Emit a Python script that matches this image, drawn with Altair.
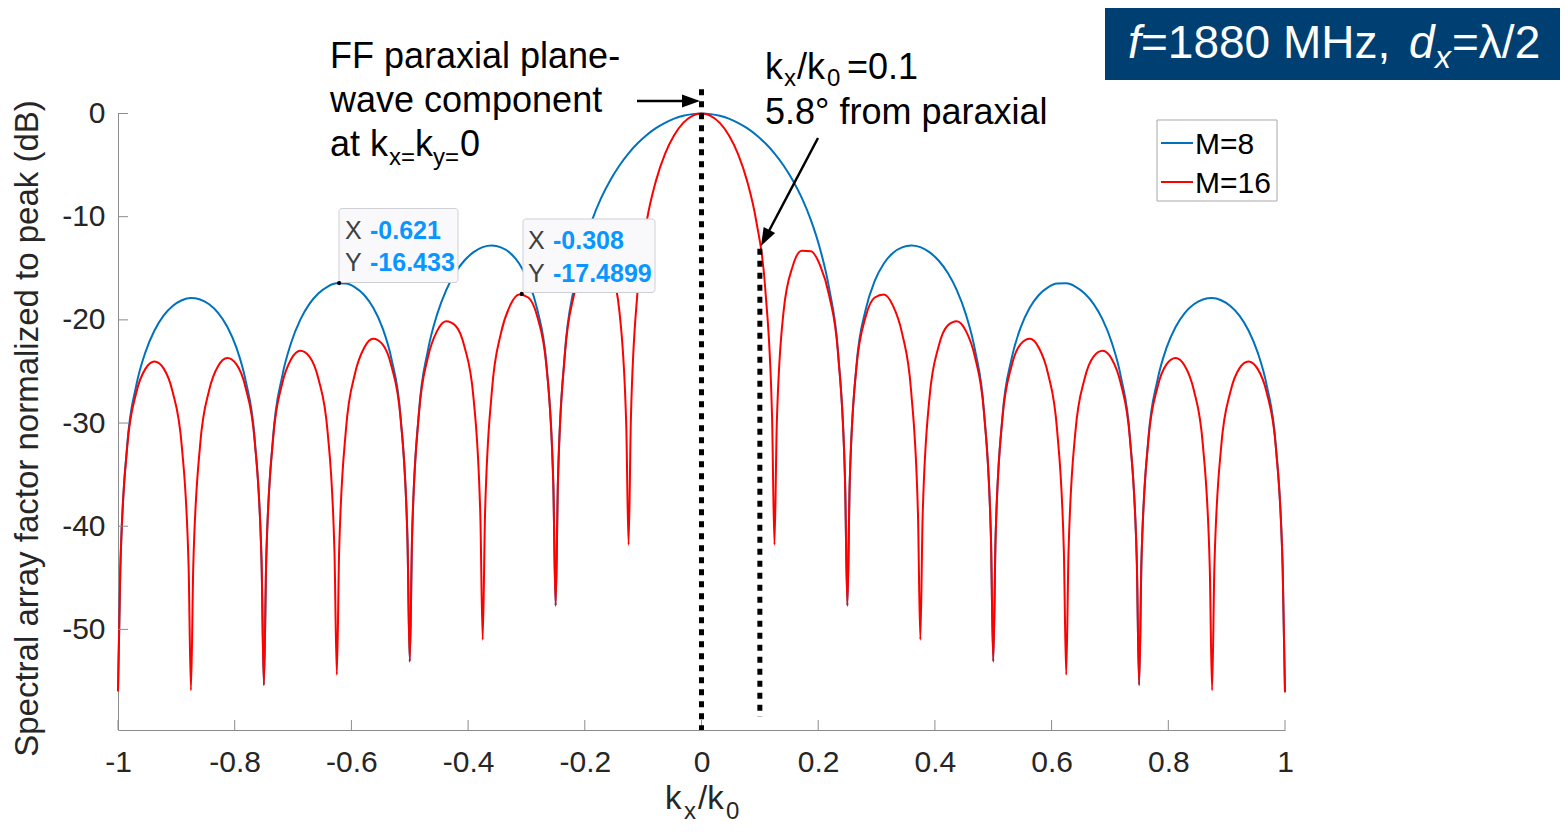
import altair as alt
import pandas as pd

# ---------------- data ----------------
kx_grid = [
    -1.0, -0.9844, -0.9688, -0.9531, -0.9375, -0.9219, -0.9063, -0.8906,
    -0.875, -0.8594, -0.8438, -0.8281, -0.8125, -0.7969, -0.7813, -0.7656,
    -0.75, -0.7344, -0.7188, -0.7031, -0.6875, -0.6719, -0.6563, -0.6406,
    -0.625, -0.6094, -0.5938, -0.5781, -0.5625, -0.5469, -0.5313, -0.5156,
    -0.5, -0.4844, -0.4688, -0.4531, -0.4375, -0.4219, -0.4063, -0.3906,
    -0.375, -0.3594, -0.3438, -0.3281, -0.3125, -0.2969, -0.2813, -0.2656,
    -0.25, -0.2344, -0.2188, -0.2031, -0.1875, -0.1719, -0.1563, -0.1406,
    -0.125, -0.1094, -0.0938, -0.0781, -0.0625, -0.0469, -0.0313, -0.0156,
    0.0,
    0.0156, 0.0313, 0.0469, 0.0625, 0.0781, 0.0938, 0.1094, 0.125,
    0.1406, 0.1563, 0.1719, 0.1875, 0.2031, 0.2188, 0.2344, 0.25,
    0.2656, 0.2813, 0.2969, 0.3125, 0.3281, 0.3438, 0.3594, 0.375,
    0.3906, 0.4063, 0.4219, 0.4375, 0.4531, 0.4688, 0.4844, 0.5,
    0.5156, 0.5313, 0.5469, 0.5625, 0.5781, 0.5938, 0.6094, 0.625,
    0.6406, 0.6563, 0.6719, 0.6875, 0.7031, 0.7188, 0.7344, 0.75,
    0.7656, 0.7813, 0.7969, 0.8125, 0.8281, 0.8438, 0.8594, 0.875,
    0.8906, 0.9063, 0.9219, 0.9375, 0.9531, 0.9688, 0.9844, 1.0,
]

m16_grid_db = [
    -56.0, -32.42, -27.08, -24.75, -24.04, -24.70, -27.00, -32.29,
    -55.9, -32.21, -26.83, -24.45, -23.70, -24.32, -26.57, -31.82,
    -55.4, -31.64, -26.21, -23.79, -22.99, -23.56, -25.76, -30.96,
    -54.4, -30.67, -25.19, -22.70, -21.84, -22.35, -24.49, -29.62,
    -53.1, -29.19, -23.63, -21.07, -20.13, -20.55, -22.59, -27.63,
    -51.0, -26.99, -21.31, -18.62, -17.55, -17.83, -19.71, -24.57,
    -47.7, -23.54, -17.64, -14.70, -13.34, -13.29, -14.80, -19.23,
    -41.8, -17.08, -10.42, -6.53, -3.91, -2.10, -0.91, -0.22,
    0.0,
    -0.22, -0.91, -2.10, -3.91, -6.53, -10.42, -17.08, -41.8,
    -19.23, -14.80, -13.29, -13.34, -14.70, -17.64, -23.54, -47.7,
    -24.57, -19.71, -17.83, -17.55, -18.62, -21.31, -26.99, -51.0,
    -27.63, -22.59, -20.55, -20.13, -21.07, -23.63, -29.19, -53.1,
    -29.62, -24.49, -22.35, -21.84, -22.70, -25.19, -30.67, -54.4,
    -30.96, -25.76, -23.56, -22.99, -23.79, -26.21, -31.64, -55.4,
    -31.82, -26.57, -24.32, -23.70, -24.45, -26.83, -32.21, -55.9,
    -32.29, -27.00, -24.70, -24.04, -24.75, -27.08, -32.42, -56.1,
]

m8_grid_db = [
    -56.0, -32.26, -26.39, -23.15, -21.03, -19.59, -18.66, -18.10,
    -17.89, -18.02, -18.49, -19.34, -20.69, -22.72, -25.88, -31.66,
    -55.4, -31.48, -25.52, -22.19, -19.98, -18.45, -17.42, -16.77,
    -16.46, -16.48, -16.85, -17.59, -18.83, -20.75, -23.80, -29.46,
    -53.1, -29.03, -22.94, -19.47, -17.12, -15.44, -14.25, -13.44,
    -12.95, -12.80, -12.97, -13.51, -14.54, -16.23, -19.02, -24.41,
    -47.7, -23.38, -16.95, -13.10, -10.33, -8.18, -6.46, -5.04,
    -3.86, -2.89, -2.08, -1.42, -0.90, -0.50, -0.22, -0.06,
    0.0,
    -0.06, -0.22, -0.50, -0.90, -1.42, -2.08, -2.89, -3.86,
    -5.04, -6.46, -8.18, -10.33, -13.10, -16.95, -23.38, -47.7,
    -24.41, -19.02, -16.23, -14.54, -13.51, -12.97, -12.80, -12.95,
    -13.44, -14.25, -15.44, -17.12, -19.47, -22.94, -29.03, -53.1,
    -29.46, -23.80, -20.75, -18.83, -17.59, -16.85, -16.48, -16.46,
    -16.77, -17.42, -18.45, -19.98, -22.19, -25.52, -31.48, -55.4,
    -31.66, -25.88, -22.72, -20.69, -19.34, -18.49, -18.02, -17.89,
    -18.10, -18.66, -19.59, -21.03, -23.15, -26.39, -32.26, -56.1,
]

# extra samples right beside the nulls (sharp notches)
m16_notch_kx = [
    -0.996, -0.879, -0.871, -0.754, -0.746, -0.629, -0.621, -0.504, -0.496,
    -0.379, -0.371, -0.254, -0.246, -0.129, -0.121,
    0.121, 0.129, 0.246, 0.254, 0.371, 0.379, 0.496, 0.504,
    0.621, 0.629, 0.746, 0.754, 0.871, 0.879, 0.996,
]
m16_notch_db = [
    -44.05, -43.89, -43.87, -43.38, -43.34, -42.49, -42.41, -41.09, -40.98,
    -39.02, -38.86, -35.84, -35.57, -30.11, -29.56,
    -29.56, -30.11, -35.57, -35.84, -38.86, -39.02, -40.98, -41.09,
    -42.41, -42.49, -43.34, -43.38, -43.87, -43.89, -44.05,
]
m8_notch_kx = [-0.996, -0.754, -0.746, -0.504, -0.496, -0.254, -0.246,
               0.246, 0.254, 0.496, 0.504, 0.746, 0.754, 0.996]
m8_notch_db = [-44.03, -43.36, -43.32, -41.07, -40.96, -35.82, -35.55,
               -35.55, -35.82, -40.96, -41.07, -43.32, -43.36, -44.03]

tick_x = [-1, -0.8, -0.6, -0.4, -0.2, 0, 0.2, 0.4, 0.6, 0.8, 1]
tick_y = [0, -10, -20, -30, -40, -50]

datatip_x = [-0.621, -0.308]
datatip_y = [-16.433, -17.4899]

marker_kx = [0.0, 0.1]
marker_top = [2.36, -13.1]
marker_bottom = [-59.75, -58.5]

# ---------------- tables ----------------
df8 = pd.DataFrame({"kx": kx_grid + m8_notch_kx, "db": m8_grid_db + m8_notch_db}).sort_values("kx")
df16 = pd.DataFrame({"kx": kx_grid + m16_notch_kx, "db": m16_grid_db + m16_notch_db}).sort_values("kx")
df_tx = pd.DataFrame({"kx": tick_x})
df_ty = pd.DataFrame({"db": tick_y})
df_tip = pd.DataFrame({"kx": datatip_x, "db": datatip_y})
df_mark = pd.DataFrame({"kx": marker_kx, "db": marker_top, "db2": marker_bottom})
one = alt.Data(values=[{"a": 0}])

W, H = 1167, 616.5
FONT = "Liberation Sans"
AX = "#8c8c8c"
LAB = "#262626"

xs = alt.Scale(domain=[-1, 1], nice=False, zero=False)
ys = alt.Scale(domain=[-59.75, 0], nice=False, zero=False)

xaxis = alt.Axis(values=tick_x, labelExpr="'' + datum.value", ticks=False, grid=False,
                 domainColor=AX, domainWidth=1, labelFont=FONT, labelFontSize=30,
                 labelColor=LAB, labelPadding=17, labelFlush=False, labelOverlap=False,
                 title=None)
yaxis = alt.Axis(values=tick_y, labelExpr="'' + datum.value", ticks=False, grid=False,
                 domainColor=AX, domainWidth=1, labelFont=FONT, labelFontSize=30,
                 labelColor=LAB, labelPadding=13, labelFlush=False, labelOverlap=False,
                 title=None)


def X():
    return alt.X("kx:Q", scale=xs, axis=xaxis)


def Y():
    return alt.Y("db:Q", scale=ys, axis=yaxis)


def txt(s, x, y, size, color="black", weight="normal", style="normal",
        align="left", angle=0, baseline="alphabetic"):
    return alt.Chart(one).mark_text(
        text=s, font=FONT, fontSize=size, color=color, fontWeight=weight,
        fontStyle=style, align=align, baseline=baseline, angle=angle
    ).encode(x=alt.value(x), y=alt.value(y))


def rect(x1, x2, y1, y2, fill, stroke=None, sw=1, radius=0):
    kw = dict(fill=fill, cornerRadius=radius)
    if stroke is not None:
        kw.update(stroke=stroke, strokeWidth=sw)
    return alt.Chart(one).mark_rect(**kw).encode(
        x=alt.value(x1), x2=alt.value(x2), y=alt.value(y1), y2=alt.value(y2))


def seg(x1, y1, x2, y2, color, sw):
    return alt.Chart(one).mark_rule(color=color, strokeWidth=sw).encode(
        x=alt.value(x1), x2=alt.value(x2), y=alt.value(y1), y2=alt.value(y2))


HEAD = "M1,0 L-1,-0.72 L-1,0.72 Z"


def head(x, y, ang):
    return alt.Chart(one).mark_point(shape=HEAD, filled=True, size=324, angle=ang,
                                     color="black", opacity=1).encode(
        x=alt.value(x), y=alt.value(y))


blue = alt.Chart(df8).mark_line(color="#0072BD", strokeWidth=2, interpolate="monotone").encode(
    x=X(), y=Y())
red = alt.Chart(df16).mark_line(color="#FF0000", strokeWidth=2, interpolate="monotone").encode(
    x=X(), y=Y())

xticks = alt.Chart(df_tx).mark_rule(color=AX, strokeWidth=1).encode(
    x=X(), y=alt.value(H), y2=alt.value(H - 10))
yticks = alt.Chart(df_ty).mark_rule(color=AX, strokeWidth=1).encode(
    y=Y(), x=alt.value(0), x2=alt.value(10))

dotted = alt.Chart(df_mark).mark_rule(color="black", strokeWidth=5, strokeDash=[6, 6]).encode(
    x=X(), y=Y(), y2="db2:Q")

tips = alt.Chart(df_tip).mark_point(filled=True, color="black", size=18, opacity=1).encode(
    x=X(), y=Y())

layers = [blue, red, xticks, yticks, dotted]

# datatips
TIPV = "#0a96ff"
layers += [
    rect(221, 340, 95, 169, "#f9f9fc", "#cfcfd6", 1, 3),
    txt("X", 227, 125.5, 25, "#404040"),
    txt("-0.621", 252, 125.5, 25, TIPV, "bold"),
    txt("Y", 227, 157.5, 25, "#404040"),
    txt("-16.433", 252, 157.5, 25, TIPV, "bold"),
    rect(405, 537, 105.5, 179, "#f9f9fc", "#cfcfd6", 1, 3),
    txt("X", 410, 135.5, 25, "#404040"),
    txt("-0.308", 435, 135.5, 25, TIPV, "bold"),
    txt("Y", 410, 168.5, 25, "#404040"),
    txt("-17.4899", 435, 168.5, 25, TIPV, "bold"),
    tips,
]

# legend
layers += [
    rect(1039, 1159, 6.5, 87.5, "white", "#a8a8a8", 1),
    seg(1043, 29.5, 1075, 29.5, "#0072BD", 2),
    txt("M=8", 1077, 40.5, 30),
    seg(1043, 68.5, 1075, 68.5, "#FF0000", 2),
    txt("M=16", 1077, 79.5, 30),
]

# title box
layers += [
    rect(987, 1450, -110.5, -33.5, "#003f72"),
    txt("f", 1010, -55.5, 46, "white", style="italic"),
    txt("=1880 MHz,", 1023, -55.5, 46, "white"),
    txt("d", 1291, -55.5, 46, "white", style="italic"),
    txt("x", 1317, -45.5, 32, "white", style="italic"),
    txt("=λ/2", 1334, -55.5, 46, "white"),
]

# left annotation
layers += [
    txt("FF paraxial plane-", 212, -45.5, 36),
    txt("wave component", 212, -1.5, 36),
    txt("at k", 212, 42.5, 36),
    txt("x=", 271, 51.5, 24),
    txt("k", 297, 42.5, 36),
    txt("y=", 315, 51.5, 24),
    txt("0", 342, 42.5, 36),
    seg(519, -12.5, 574, -12.5, "black", 2.5),
    head(573, -12.5, 0),
]

# right annotation
layers += [
    txt("k", 647, -34.5, 36),
    txt("x", 666, -27.5, 24),
    txt("/k", 679, -34.5, 36),
    txt("0", 709, -27.5, 24),
    txt("=0.1", 729, -34.5, 36),
    txt("5.8° from paraxial", 647, 10.5, 36),
    seg(700, 24.5, 647.5, 124, "black", 2.5),
    head(647.2, 124.5, 117.8),
]

# axis titles
layers += [
    txt("Spectral array factor normalized to peak (dB)", -80, 315, 33, LAB,
        align="center", angle=270),
    txt("k", 547, 695, 33, LAB),
    txt("x", 566, 705, 24, LAB),
    txt("/k", 580, 695, 33, LAB),
    txt("0", 608, 705, 24, LAB),
]

chart = alt.layer(*layers).properties(
    width=W, height=H,
    autosize=alt.AutoSizeParams(type="none"),
    padding={"left": 110, "top": 105.5, "right": 275, "bottom": 95},
).configure_view(stroke=None)

chart.save("out.html", embed_options={"renderer": "svg", "actions": False})
